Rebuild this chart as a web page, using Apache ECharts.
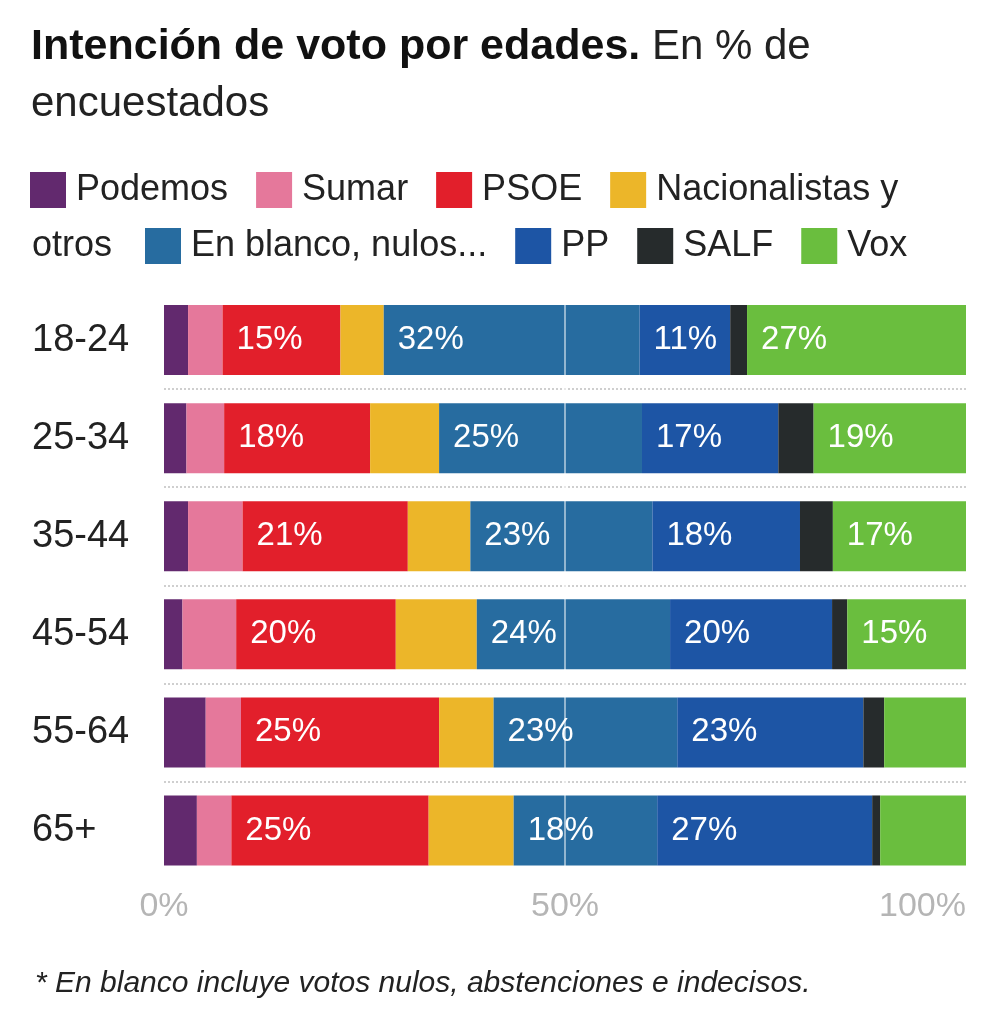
<!DOCTYPE html>
<html>
<head>
<meta charset="utf-8">
<script src="https://cdn.jsdelivr.net/npm/echarts@6/dist/echarts.min.js"></script>
<style>
html,body{margin:0;padding:0;background:#fff;}
#c{width:1000px;height:1016px;}
</style>
</head>
<body>
<div id="c"></div>
<script>
var categories = ['18-24', '25-34', '35-44', '45-54', '55-64', '65+'];
var podemos = [3.0, 2.8, 3.0, 2.3, 5.2, 4.1];
var sumar   = [4.3, 4.7, 6.8, 6.7, 4.4, 4.3];
var psoe    = [14.7, 18.2, 20.6, 19.9, 24.7, 24.6];
var nac     = [5.4, 8.6, 7.8, 10.1, 6.8, 10.6];
var blanco  = [31.9, 25.3, 22.7, 24.1, 22.9, 17.9];
var pp      = [11.3, 17.0, 18.4, 20.2, 23.2, 26.8];
var salf    = [2.1, 4.4, 4.1, 1.9, 2.6, 1.0];
var vox     = [27.3, 19.0, 16.6, 14.8, 10.2, 10.7];
var xTicks = [0, 50, 100];

var seriesNames = ['Podemos', 'Sumar', 'PSOE', 'Nacionalistas y otros', 'En blanco, nulos...', 'PP', 'SALF', 'Vox'];
var seriesData = [podemos, sumar, psoe, nac, blanco, pp, salf, vox];
var colors = ['#62296e', '#e5789b', '#e21f2b', '#ecb629', '#276ca0', '#1d55a5', '#262b2c', '#6abe3e'];

var FONT = '"Liberation Sans", Arial, Helvetica, sans-serif';

var chart = echarts.init(document.getElementById('c'));

var series = seriesNames.map(function (name, i) {
  var s = {
    name: name,
    type: 'bar',
    stack: 'total',
    barWidth: 70,
    data: seriesData[i],
    itemStyle: { color: colors[i] },
    label: {
      show: true,
      position: 'insideLeft',
      distance: 14,
      color: '#ffffff',
      fontFamily: FONT,
      fontSize: 33,
      formatter: function (p) { return p.value >= 11 ? Math.round(p.value) + '%' : ''; }
    },
    emphasis: { disabled: true }
  };
  if (i === seriesNames.length - 1) {
    s.markLine = {
      silent: true,
      symbol: 'none',
      z: 10,
      label: { show: false },
      lineStyle: { color: 'rgba(255,255,255,0.5)', width: 2, type: 'solid' },
      data: [{ xAxis: 50 }]
    };
  }
  return s;
});

var legendText = { color: '#222', fontFamily: FONT, fontSize: 36, lineHeight: 36, padding: [0, 0, 0, 5] };

chart.setOption({
  animation: false,
  color: colors,
  title: {
    left: 31,
    top: 19,
    padding: 0,
    text: '{b|Intención de voto por edades.}{r| En % de}\n{r|encuestados}',
    textStyle: {
      rich: {
        b: { fontFamily: FONT, fontWeight: 'bold', fontSize: 43, color: '#111', lineHeight: 57 },
        r: { fontFamily: FONT, fontWeight: 'normal', fontSize: 42, color: '#222', lineHeight: 57 }
      }
    }
  },
  legend: [
    {
      left: 30, top: 172, padding: 0,
      icon: 'rect', itemWidth: 36, itemHeight: 36, itemGap: 28,
      selectedMode: false,
      data: seriesNames.slice(0, 4),
      formatter: function (n) { return n === 'Nacionalistas y otros' ? 'Nacionalistas y' : n; },
      textStyle: legendText
    },
    {
      left: 145, top: 228, padding: 0,
      icon: 'rect', itemWidth: 36, itemHeight: 36, itemGap: 28,
      selectedMode: false,
      data: seriesNames.slice(4),
      textStyle: legendText
    }
  ],
  graphic: [
    {
      type: 'text', left: 32, top: 228,
      style: { text: 'otros', fill: '#222', font: '36px ' + FONT, lineHeight: 36, verticalAlign: 'top' }
    },
    {
      type: 'text', left: 35, top: 969,
      style: { text: '* En blanco incluye votos nulos, abstenciones e indecisos.', fill: '#222', font: 'italic 30px ' + FONT }
    }
  ],
  grid: { left: 164, right: 34, top: 291, bottom: 136.5, containLabel: false },
  xAxis: {
    type: 'value',
    min: xTicks[0],
    max: xTicks[xTicks.length - 1],
    interval: 50,
    axisLine: { show: false },
    axisTick: { show: false },
    splitLine: { show: false },
    axisLabel: {
      color: '#b5b5b5',
      fontFamily: FONT,
      fontSize: 34,
      margin: 10,
      alignMaxLabel: 'right',
      formatter: '{value}%'
    }
  },
  yAxis: {
    type: 'category',
    inverse: true,
    data: categories,
    axisLine: { show: false },
    axisTick: { show: false },
    axisLabel: {
      align: 'left',
      margin: 132,
      color: '#222',
      fontFamily: FONT,
      fontSize: 38
    },
    splitLine: {
      show: true,
      showMinLine: false,
      showMaxLine: false,
      lineStyle: { color: '#cfcfcf', type: 'dotted', width: 2 }
    }
  },
  series: series
});
</script>
</body>
</html>
